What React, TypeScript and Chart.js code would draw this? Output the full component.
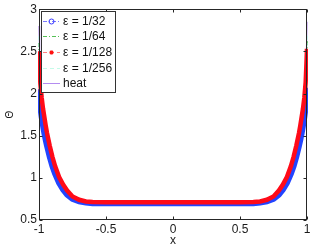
import React, { useEffect, useRef } from "react";
import { Chart, registerables } from "chart.js";

Chart.register(...registerables);

const xs = [
  -1, -0.995, -0.99, -0.98, -0.97, -0.96, -0.95, -0.94, -0.92, -0.9, -0.88, -0.85, -0.82, -0.79, -0.75, -0.7, -0.65, -0.6,
  -0.5, -0.4, -0.3, -0.2, -0.1, 0, 0.1, 0.2, 0.3, 0.4, 0.5,
  0.6, 0.65, 0.7, 0.75, 0.79, 0.82, 0.85, 0.88, 0.9, 0.92, 0.94, 0.95, 0.96, 0.97, 0.98, 0.99, 0.995, 1,
];

const eps32 = [
  2.05, 1.93, 1.84, 1.72, 1.62, 1.53, 1.45, 1.38, 1.25, 1.14, 1.05, 0.94, 0.86, 0.8, 0.75, 0.72, 0.706, 0.7,
  0.698, 0.698, 0.698, 0.698, 0.698, 0.698, 0.698, 0.698, 0.698, 0.698, 0.698,
  0.7, 0.706, 0.72, 0.75, 0.8, 0.86, 0.94, 1.05, 1.14, 1.25, 1.38, 1.45, 1.53, 1.62, 1.72, 1.84, 1.94, 2.07,
];

const eps64 = [
  2.6, 2.3, 2.1, 1.92, 1.79, 1.69, 1.59, 1.5, 1.35, 1.22, 1.12, 0.99, 0.91, 0.84, 0.775, 0.735, 0.718, 0.71,
  0.707, 0.707, 0.707, 0.707, 0.707, 0.707, 0.707, 0.707, 0.707, 0.707, 0.707,
  0.71, 0.718, 0.735, 0.775, 0.84, 0.91, 0.99, 1.12, 1.22, 1.35, 1.5, 1.59, 1.69, 1.79, 1.92, 2.1, 2.3, 2.62,
];

const eps128 = [
  2.5, 2.3, 2.12, 1.95, 1.82, 1.72, 1.62, 1.53, 1.38, 1.25, 1.14, 1.01, 0.92, 0.85, 0.78, 0.74, 0.72, 0.713,
  0.71, 0.71, 0.71, 0.71, 0.71, 0.71, 0.71, 0.71, 0.71, 0.71, 0.71,
  0.713, 0.72, 0.74, 0.78, 0.85, 0.92, 1.01, 1.14, 1.25, 1.38, 1.53, 1.62, 1.72, 1.82, 1.95, 2.13, 2.32, 2.53,
];

const eps256 = [
  2.68, 2.38, 2.16, 1.96, 1.83, 1.72, 1.63, 1.54, 1.39, 1.26, 1.15, 1.02, 0.93, 0.86, 0.785, 0.745, 0.722, 0.714,
  0.71, 0.71, 0.71, 0.71, 0.71, 0.71, 0.71, 0.71, 0.71, 0.71, 0.71,
  0.714, 0.722, 0.745, 0.785, 0.86, 0.93, 1.02, 1.15, 1.26, 1.39, 1.54, 1.63, 1.72, 1.83, 1.96, 2.16, 2.38, 2.7,
];

const heat = [
  2.8, 2.42, 2.18, 1.97, 1.84, 1.73, 1.63, 1.54, 1.39, 1.26, 1.15, 1.02, 0.93, 0.86, 0.785, 0.745, 0.722, 0.714,
  0.708, 0.708, 0.708, 0.708, 0.708, 0.708, 0.708, 0.708, 0.708, 0.708, 0.708,
  0.714, 0.722, 0.745, 0.785, 0.86, 0.93, 1.02, 1.15, 1.26, 1.39, 1.54, 1.63, 1.73, 1.84, 1.97, 2.18, 2.45, 2.85,
];

const seriesLabels = ["ε = 1/32", "ε = 1/64", "ε = 1/128", "ε = 1/256", "heat"];
const xTickValues = [-1, -0.5, 0, 0.5, 1];
const yTickValues = [0.5, 1, 1.5, 2, 2.5, 3];

const FONT = '"Liberation Sans", Arial, Helvetica, sans-serif';

function pts(ys: number[]) {
  return xs.map((x, i) => ({ x, y: ys[i] }));
}

const legendStyles = [
  { color: "#7a7aff", dash: [4, 2, 1, 2], marker: "circle", markerColor: "#3a3aff" },
  { color: "#55c055", dash: [4, 2, 1, 2], marker: "none", markerColor: "" },
  { color: "#ff8080", dash: [4, 3], marker: "star", markerColor: "#ff1010" },
  { color: "#c4fbe8", dash: [4, 3], marker: "none", markerColor: "" },
  { color: "#b48cf0", dash: [], marker: "none", markerColor: "" },
];

const framePlugin = {
  id: "frame",
  afterDatasetsDraw(chart: any) {
    const { ctx, chartArea: a, scales } = chart;
    ctx.save();
    const L = Math.round(a.left) + 0.5;
    const R = Math.round(a.right) - 0.5;
    const T = Math.round(a.top) + 0.5;
    const B = Math.round(a.bottom) - 0.5;
    ctx.strokeStyle = "#262626";
    ctx.lineWidth = 1;
    ctx.setLineDash([]);
    ctx.strokeRect(L, T, R - L, B - T);
    const tl = 3;
    ctx.beginPath();
    xTickValues.forEach((v) => {
      const px = Math.round(scales.x.getPixelForValue(v)) + 0.5;
      ctx.moveTo(px, B);
      ctx.lineTo(px, B - tl);
      ctx.moveTo(px, T);
      ctx.lineTo(px, T + tl);
    });
    yTickValues.forEach((v) => {
      const py = Math.round(scales.y.getPixelForValue(v)) + 0.5;
      ctx.moveTo(L, py);
      ctx.lineTo(L + tl, py);
      ctx.moveTo(R, py);
      ctx.lineTo(R - tl, py);
    });
    ctx.stroke();

    // legend
    const bx = 41.5, by = 11.5, bw = 74, bh = 81;
    ctx.fillStyle = "#ffffff";
    ctx.fillRect(bx, by, bw, bh);
    ctx.strokeStyle = "#333333";
    ctx.strokeRect(bx, by, bw, bh);
    ctx.font = `12px ${FONT}`;
    ctx.textBaseline = "middle";
    ctx.textAlign = "left";
    seriesLabels.forEach((lab, i) => {
      const y = Math.round(20.7 + i * 15.65) + 0.5;
      const st = legendStyles[i];
      ctx.strokeStyle = st.color;
      ctx.lineWidth = 1;
      ctx.setLineDash(st.dash);
      ctx.beginPath();
      ctx.moveTo(43, y);
      ctx.lineTo(60, y);
      ctx.stroke();
      ctx.setLineDash([]);
      const mx = 51.5;
      if (st.marker === "circle") {
        ctx.strokeStyle = st.markerColor;
        ctx.beginPath();
        ctx.arc(mx, y, 2.5, 0, Math.PI * 2);
        ctx.stroke();
      } else if (st.marker === "star") {
        ctx.strokeStyle = st.markerColor;
        ctx.lineWidth = 1.5;
        ctx.beginPath();
        const r = 2;
        for (let k = 0; k < 4; k++) {
          const ang = (k * Math.PI) / 4;
          ctx.moveTo(mx - r * Math.cos(ang), y - r * Math.sin(ang));
          ctx.lineTo(mx + r * Math.cos(ang), y + r * Math.sin(ang));
        }
        ctx.stroke();
      }
      ctx.fillStyle = "#111111";
      ctx.fillText(lab, 63, y);
    });
    ctx.restore();
  },
};

const fmt = (v: any) => String(Number(v));

export default function App() {
  const ref = useRef<HTMLCanvasElement | null>(null);

  useEffect(() => {
    if (!ref.current) return;
    Chart.defaults.font.family = FONT;
    Chart.defaults.color = "#1a1a1a";
    const chart = new Chart(ref.current, {
      type: "scatter",
      data: {
        datasets: [
          {
            label: seriesLabels[0],
            data: pts(eps32),
            showLine: true,
            borderColor: "#2244ff",
            backgroundColor: "rgba(0,0,0,0)",
            borderWidth: 6,
            pointRadius: 0,
            clip: 1,
            order: 5,
          },
          {
            label: seriesLabels[4],
            data: pts(heat),
            showLine: true,
            borderColor: "#b48cf0",
            borderWidth: 1.2,
            pointRadius: 0,
            clip: 1,
            order: 4,
          },
          {
            label: seriesLabels[1],
            data: pts(eps64),
            showLine: true,
            borderColor: "#30b030",
            borderWidth: 1.5,
            borderDash: [4, 2, 1, 2],
            pointRadius: 0,
            clip: 1,
            order: 3,
          },
          {
            label: seriesLabels[3],
            data: pts(eps256),
            showLine: true,
            borderColor: "#b8fbe8",
            borderWidth: 1.5,
            borderDash: [4, 3],
            pointRadius: 0,
            clip: 1,
            order: 2,
          },
          {
            label: seriesLabels[2],
            data: pts(eps128),
            showLine: true,
            borderColor: "#ff0a18",
            backgroundColor: "rgba(0,0,0,0)",
            borderWidth: 4.5,
            pointRadius: 0,
            clip: 1,
            order: 1,
          },
        ],
      },
      options: {
        animation: false,
        responsive: false,
        events: [],
        layout: { padding: { top: 8, right: 6, left: 0, bottom: 0 } },
        plugins: { legend: { display: false }, tooltip: { enabled: false } },
        scales: {
          x: {
            type: "linear",
            min: -1,
            max: 1,
            afterFit: (s: any) => {
              s.height = 29;
            },
            afterBuildTicks: (s: any) => {
              s.ticks = xTickValues.map((v) => ({ value: v }));
            },
            ticks: { font: { size: 12 }, padding: 2, maxRotation: 0, callback: fmt },
            grid: { display: false, drawTicks: false },
            border: { display: false },
            title: { display: true, text: "x", font: { size: 12 }, padding: { top: 0, bottom: 1 } },
          },
          y: {
            type: "linear",
            min: 0.5,
            max: 3,
            afterFit: (s: any) => {
              s.width = 39;
            },
            afterBuildTicks: (s: any) => {
              s.ticks = yTickValues.map((v) => ({ value: v }));
            },
            ticks: { font: { size: 12 }, padding: 2, callback: fmt },
            grid: { display: false, drawTicks: false },
            border: { display: false },
            title: { display: true, text: "Θ", font: { size: 10 }, padding: { top: 4, bottom: 0 } },
          },
        },
      },
      plugins: [framePlugin],
    } as any);
    return () => chart.destroy();
  }, []);

  return (
    <div style={{ position: "absolute", left: 0, top: 0, width: 313, height: 249, background: "#fff" }}>
      <canvas ref={ref} width={313} height={249} style={{ display: "block" }} />
    </div>
  );
}
